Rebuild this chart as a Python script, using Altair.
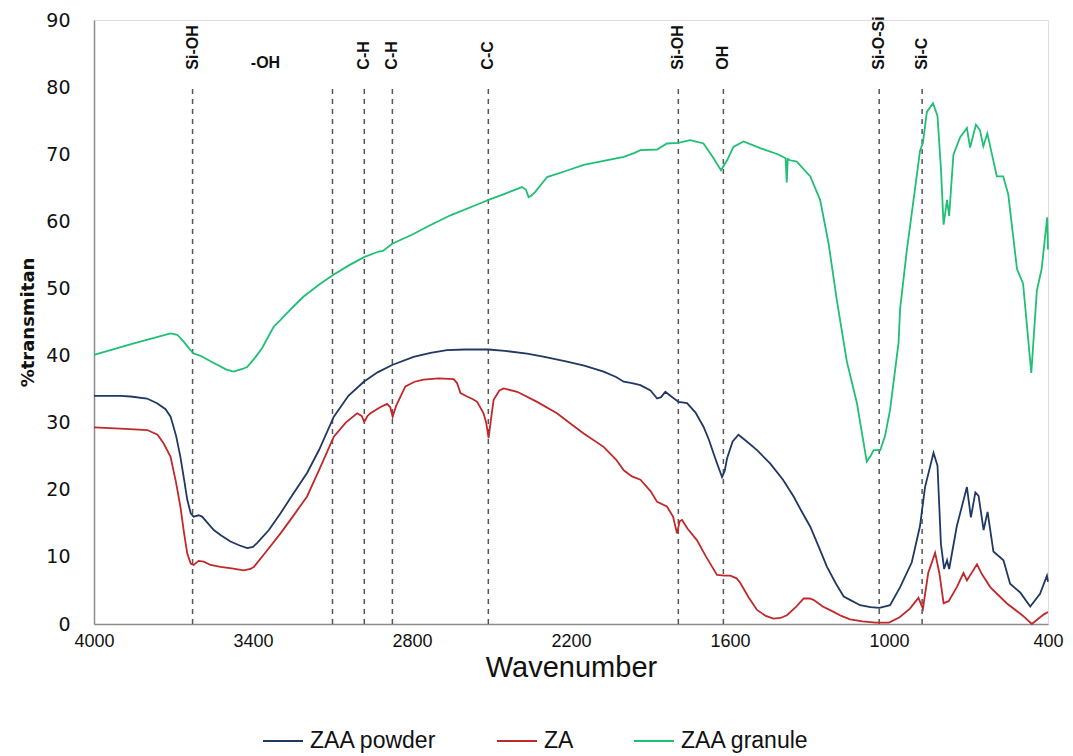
import altair as alt
import pandas as pd

# ---------------- data ----------------
wn_powder = [4000, 3900, 3862, 3800, 3762, 3730, 3711, 3690, 3674, 3660, 3648, 3635, 3624, 3605,
             3592, 3570, 3548, 3520, 3485, 3450, 3422, 3400, 3384, 3340, 3296, 3250, 3196, 3150,
             3095, 3040, 2982, 2930, 2875, 2794, 2730, 2668, 2600, 2542, 2511, 2450, 2366, 2300,
             2215, 2150, 2077, 2030, 2001, 1970, 1938, 1900, 1875, 1860, 1844, 1825, 1794, 1762,
             1730, 1700, 1680, 1662, 1645, 1630, 1620, 1611, 1590, 1568, 1540, 1498, 1448, 1400,
             1360, 1330, 1297, 1265, 1234, 1200, 1171, 1147, 1109, 1070, 1036, 996, 958, 914,
             883, 864, 832, 817, 804, 792, 781, 773, 744, 706, 691, 674, 662, 643, 628, 606,
             568, 543, 505, 467, 430, 404, 400]
t_powder = [34.0, 34.0, 33.9, 33.6, 32.9, 32.0, 30.9, 28.0, 24.9, 21.5, 18.5, 16.5, 16.0, 16.2,
            16.0, 15.0, 14.0, 13.2, 12.3, 11.7, 11.3, 11.5, 12.1, 14.0, 16.5, 19.3, 22.5, 26.0,
            30.9, 34.0, 36.1, 37.5, 38.6, 39.8, 40.4, 40.8, 40.9, 40.9, 40.9, 40.7, 40.3, 39.8,
            39.1, 38.5, 37.6, 36.8, 36.1, 35.9, 35.6, 34.8, 33.6, 33.8, 34.6, 34.0, 33.1, 32.9,
            31.5, 29.4, 27.5, 25.4, 23.5, 21.9, 22.8, 24.7, 27.2, 28.2, 27.3, 25.9, 23.9, 21.5,
            19.0, 16.8, 14.5, 11.5, 8.5, 6.0, 4.1, 3.6, 2.8, 2.5, 2.4, 2.8, 5.5, 9.2,
            14.6, 20.4, 25.5, 23.6, 11.9, 8.2, 9.5, 8.2, 14.6, 20.4, 15.9, 19.6, 19.1, 14.0, 16.7, 10.8,
            9.5, 6.0, 4.7, 2.6, 4.5, 7.2, 6.3]

wn_za = [4000, 3900, 3799, 3760, 3737, 3711, 3690, 3674, 3660, 3648, 3635, 3624, 3605, 3586,
         3560, 3523, 3480, 3435, 3410, 3397, 3350, 3296, 3250, 3196, 3150, 3095, 3050, 3007,
         2990, 2980, 2968, 2957, 2920, 2894, 2882, 2873, 2860, 2825, 2790, 2756, 2700, 2643,
         2630, 2617, 2592, 2570, 2554, 2530, 2520, 2511, 2502, 2492, 2470, 2454, 2403, 2328,
         2253, 2200, 2152, 2077, 2030, 2001, 1970, 1938, 1900, 1875, 1838, 1815, 1800, 1790,
         1781, 1760, 1725, 1690, 1649, 1620, 1599, 1575, 1561, 1530, 1498, 1465, 1436, 1410,
         1385, 1350, 1322, 1300, 1285, 1250, 1209, 1180, 1147, 1100, 1050, 1000, 960, 921,
         889, 872, 852, 826, 810, 794, 775, 744, 719, 706, 668, 649, 618, 556, 494, 461,
         417, 400]
t_za = [29.3, 29.1, 28.9, 28.2, 26.9, 24.9, 21.0, 17.5, 13.5, 10.5, 9.0, 8.8, 9.4, 9.3,
        8.8, 8.5, 8.3, 8.0, 8.2, 8.5, 10.8, 13.5, 16.0, 19.0, 23.0, 27.9, 30.0, 31.4,
        31.0, 30.1, 31.0, 31.4, 32.3, 32.8, 32.3, 30.9, 32.5, 35.4, 36.1, 36.4, 36.6, 36.5,
        35.9, 34.4, 33.9, 33.5, 33.1, 31.4, 30.0, 27.7, 30.5, 33.4, 34.8, 35.1, 34.6, 33.1,
        31.4, 29.8, 28.4, 26.4, 24.5, 22.9, 22.0, 21.5, 19.8, 18.2, 17.5, 16.0, 13.5, 15.3,
        15.5, 14.2, 12.5, 10.0, 7.3, 7.2, 7.2, 6.8, 6.1, 4.0, 2.1, 1.2, 0.8, 0.9,
        1.3, 2.6, 3.8, 3.8, 3.6, 2.6, 1.8, 1.2, 0.7, 0.4, 0.2, 0.2, 1.0, 2.3,
        3.9, 2.3, 7.6, 10.6, 7.6, 3.1, 3.4, 5.5, 7.6, 6.5, 8.9, 7.4, 5.5, 3.1, 1.2, 0.0,
        1.4, 1.8]

wn_granule = [4000, 3850, 3711, 3686, 3660, 3640, 3624, 3600, 3548, 3500, 3473, 3440, 3422, 3390,
              3366, 3322, 3296, 3250, 3209, 3150, 3098, 3040, 2979, 2926, 2910, 2873, 2800, 2743,
              2655, 2542, 2511, 2450, 2385, 2370, 2360, 2350, 2335, 2290, 2220, 2152, 2001, 1960,
              1938, 1875, 1838, 1795, 1750, 1700, 1662, 1634, 1611, 1587, 1549, 1486, 1420, 1390,
              1386, 1382, 1373, 1348, 1297, 1260, 1228, 1197, 1159, 1121, 1084, 1070, 1058, 1033,
              1015, 996, 964, 958, 933, 908, 883, 872, 857, 834, 817, 804, 794, 781, 773, 757,
              732, 706, 694, 672, 657, 644, 629, 593, 569, 550, 517, 494, 463, 442, 424, 403, 400]
t_granule = [40.1, 41.8, 43.3, 43.1, 42.0, 41.0, 40.3, 40.0, 38.9, 37.9, 37.6, 38.0, 38.3, 39.8,
             41.1, 44.3, 45.3, 47.2, 48.8, 50.6, 52.0, 53.4, 54.7, 55.5, 55.6, 56.7, 58.0, 59.2,
             60.9, 62.7, 63.2, 64.1, 65.1, 64.7, 63.6, 63.8, 64.4, 66.6, 67.5, 68.4, 69.6, 70.2,
             70.6, 70.7, 71.6, 71.7, 72.1, 71.6, 69.4, 67.6, 69.1, 71.1, 71.9, 70.9, 70.0, 69.4,
             65.8, 69.3, 69.1, 68.9, 66.7, 63.2, 56.7, 48.3, 39.1, 32.9, 24.2, 25.0, 25.9, 25.9,
             28.0, 31.9, 41.9, 47.0, 55.6, 63.0, 70.5, 71.7, 76.3, 77.6, 75.7, 67.8, 59.5, 63.2, 60.8, 69.9,
             72.5, 73.9, 71.0, 74.4, 73.6, 71.2, 73.1, 66.7, 66.7, 64.0, 52.9, 50.7, 37.4, 49.7, 52.9, 60.6, 55.8]

series_names = ["ZAA powder", "ZA", "ZAA granule"]
series_colors = ["#1f3864", "#c0282a", "#1fbf74"]

band_wn = [3628, 3100, 2980, 2874, 2512, 1795, 1625, 1037, 875]
band_labels = ["Si-OH", "", "C-H", "C-H", "C-C", "Si-OH", "OH", "Si-O-Si", "Si-C"]
free_label_wn = [3353]
free_label_text = ["-OH"]

x_ticks = [4000, 3400, 2800, 2200, 1600, 1000, 400]
y_ticks = [0, 10, 20, 30, 40, 50, 60, 70, 80, 90]

# ---------------- tables ----------------
rows = []
for name, wns, ts in zip(series_names, [wn_powder, wn_za, wn_granule], [t_powder, t_za, t_granule]):
    for i, (w, t) in enumerate(zip(wns, ts)):
        rows.append({"series": name, "wn": w, "t": t, "idx": i})
lines_df = pd.DataFrame(rows)

bands_df = pd.DataFrame({"wn": band_wn, "label": band_labels, "y0": 0, "y1": 80, "ylab": 82.6})
free_df = pd.DataFrame({"wn": free_label_wn, "label": free_label_text, "ylab": 83.6})

SANS = "Liberation Sans, Arial, sans-serif"

x_scale = alt.Scale(domain=[4000, 400], nice=False, zero=False)
y_scale = alt.Scale(domain=[0, 90], nice=False)

x_enc = alt.X("wn:Q", scale=x_scale,
              axis=alt.Axis(values=x_ticks, format="d", title="Wavenumber", grid=False, ticks=False,
                            labelFont=SANS, labelFontSize=18, labelColor="#111",
                            labelPadding=8, titleFont=SANS, titleFontSize=29,
                            titleFontWeight="normal", titleColor="#111", titlePadding=3,
                            domainColor="#8c8c8c", domainWidth=1.5, labelFlush=False))
y_enc = alt.Y("t:Q", scale=y_scale,
              axis=alt.Axis(values=y_ticks, title="%transmitan", grid=False, ticks=False,
                            labelFont="DejaVu Sans", labelFontSize=19, labelColor="#111",
                            labelPadding=24, titleFont="DejaVu Sans", titleFontSize=18,
                            titleFontWeight="bold", titleColor="#111", titlePadding=8,
                            domainColor="#8c8c8c", domainWidth=1.5))

lines = alt.Chart(lines_df).mark_line(strokeWidth=1.8).encode(
    x=x_enc,
    y=y_enc,
    color=alt.Color("series:N",
                    scale=alt.Scale(domain=series_names, range=series_colors),
                    sort=series_names,
                    legend=alt.Legend(orient="none", legendX=168, legendY=700,
                                      direction="horizontal", title=None,
                                      symbolType="stroke", symbolSize=1600,
                                      symbolStrokeWidth=2, labelFont=SANS,
                                      labelFontSize=23, labelColor="#111",
                                      columnPadding=56, labelOffset=6)),
    order=alt.Order("idx:Q"),
)

rules = alt.Chart(bands_df).mark_rule(strokeDash=[5, 5], color="#555555", strokeWidth=1.5).encode(
    x=alt.X("wn:Q", scale=x_scale),
    y=alt.Y("y0:Q", scale=y_scale),
    y2="y1:Q",
)

band_text = alt.Chart(bands_df).mark_text(angle=270, align="left", baseline="middle",
                                          font="Liberation Sans", fontSize=16,
                                          fontWeight="bold", color="#111").encode(
    x=alt.X("wn:Q", scale=x_scale),
    y=alt.Y("ylab:Q", scale=y_scale),
    text="label:N",
)

free_text = alt.Chart(free_df).mark_text(align="center", baseline="middle",
                                         font="Liberation Sans", fontSize=16,
                                         fontWeight="bold", color="#111").encode(
    x=alt.X("wn:Q", scale=x_scale),
    y=alt.Y("ylab:Q", scale=y_scale),
    text="label:N",
)

chart = alt.layer(rules, lines, band_text, free_text).properties(
    width=954, height=604,
    autosize=alt.AutoSizeParams(type="none"),
    padding={"left": 94, "top": 20, "right": 25, "bottom": 132},
).configure_view(stroke=None).configure(background="white")

chart.save("out.html", embed_options={"renderer": "svg", "actions": False})
